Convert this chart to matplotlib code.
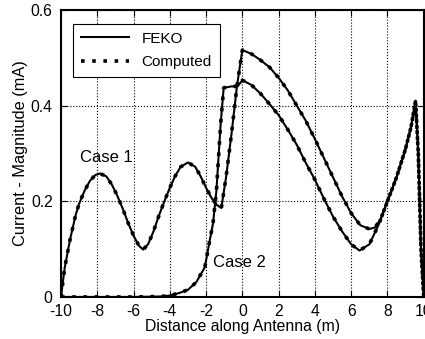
import matplotlib.pyplot as plt

plt.rcParams['font.family'] = ['Liberation Sans', 'DejaVu Sans']
plt.rcParams['axes.unicode_minus'] = False

# case 1 (starts rising at -10, upper curve after 0)
x1 = [-10, -9.8, -9.5, -9.2, -9.0, -8.7, -8.4, -8.1, -7.85, -7.5, -7.2, -6.9,
      -6.6, -6.3, -6.0, -5.7, -5.47, -5.2, -4.9, -4.6, -4.3, -4.0, -3.7, -3.4,
      -3.0, -2.6, -2.3, -2.0, -1.7, -1.4, -1.16, -0.9, -0.6, -0.3, 0.0, 0.5,
      1.0, 1.5, 2.0, 2.5, 3.0, 3.5, 4.0, 4.5, 5.0, 5.5, 6.0, 6.5, 7.0, 7.3,
      7.6, 8.0, 8.5, 9.0, 9.3, 9.55, 9.7, 9.85, 10.0]
y1 = [0.0, 0.06, 0.12, 0.17, 0.195, 0.222, 0.243, 0.255, 0.258, 0.252, 0.235, 0.212,
      0.185, 0.155, 0.128, 0.107, 0.099, 0.11, 0.137, 0.17, 0.2, 0.228, 0.253, 0.272,
      0.281, 0.272, 0.252, 0.228, 0.207, 0.192, 0.186, 0.25, 0.34, 0.44, 0.516, 0.508,
      0.495, 0.48, 0.458, 0.432, 0.40, 0.368, 0.33, 0.29, 0.25, 0.21, 0.175, 0.15, 0.142, 0.145,
      0.16, 0.2, 0.25, 0.31, 0.355, 0.41, 0.3, 0.1, 0.0]

# case 2 (zero until about -4, lower curve after 0)
x2 = [-10, -8, -6, -4.5, -4.0, -3.5, -3.0, -2.54, -2.07, -1.8, -1.62, -1.43,
      -1.2, -1.03, -0.6, -0.26, 0.0, 0.5, 1.0, 1.5, 2.0, 2.5, 3.0, 3.5, 4.0,
      4.5, 5.0, 5.5, 6.0, 6.46, 7.0, 7.5, 8.0, 8.5, 9.0, 9.3, 9.55, 9.7, 9.85, 10.0]
y2 = [0.0, 0.0, 0.0, 0.001, 0.003, 0.008, 0.015, 0.031, 0.062, 0.118, 0.153, 0.222,
      0.36, 0.437, 0.44, 0.44, 0.453, 0.443, 0.425, 0.403, 0.38, 0.35, 0.318, 0.28, 0.245,
      0.205, 0.168, 0.137, 0.11, 0.097, 0.11, 0.15, 0.2, 0.25, 0.31, 0.355, 0.41, 0.3, 0.1, 0.0]

xticks = [-10, -8, -6, -4, -2, 0, 2, 4, 6, 8, 10]
yticks = [0, 0.2, 0.4, 0.6]
yticklabels = ['0', '0.2', '0.4', '0.6']

fig = plt.figure(figsize=(4.25, 3.39), dpi=100)
ax = fig.add_axes([0.1435, 0.124, 0.8535, 0.847])

ax.plot(x1, y1, '-', color='black', lw=1.5, label='FEKO')
ax.plot(x1, y1, color='black', lw=2.6, dashes=(1, 2.1), label='Computed')
ax.plot(x2, y2, '-', color='black', lw=1.5)
ax.plot(x2, y2, color='black', lw=2.6, dashes=(1, 2.1))

ax.set_xlim(-10, 10)
ax.set_ylim(0, 0.6)
ax.set_xticks(xticks)
ax.set_yticks(yticks)
ax.set_yticklabels(yticklabels)
ax.tick_params(direction='in', top=True, right=True, length=4, labelsize=11.3)
ax.tick_params(axis='x', pad=5)
ax.tick_params(axis='y', pad=6)
ax.grid(True, linestyle=':', color='black', lw=0.8)
for s in ax.spines.values():
    s.set_linewidth(1.5)

ax.text(-8.95, 0.291, 'Case 1', fontsize=12, va='center')
ax.text(-1.6, 0.072, 'Case 2', fontsize=12, va='center')

ax.set_xlabel('Distance along Antenna (m)', fontsize=11.3, labelpad=0)
ax.set_ylabel('Current - Magnitude (mA)', fontsize=11.8, labelpad=2)

leg = ax.legend(loc='upper left', bbox_to_anchor=(0.033, 0.951), borderaxespad=0,
                fontsize=11, handlelength=3.2, fancybox=False, framealpha=1,
                edgecolor='black', borderpad=0.5, labelspacing=0.65)
leg.get_frame().set_linewidth(0.8)

plt.savefig('out.png', dpi=100)
